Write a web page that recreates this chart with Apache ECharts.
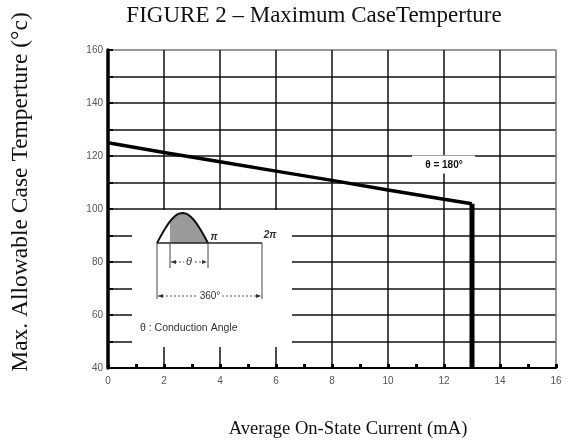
<!DOCTYPE html>
<html><head><meta charset="utf-8">
<script src="https://cdn.jsdelivr.net/npm/echarts@6/dist/echarts.min.js"></script>
<style>html,body{margin:0;padding:0;background:#fff}#c{width:568px;height:446px}</style>
</head><body><div id="c"></div>
<script>
var titleText = 'FIGURE 2 – Maximum CaseTemperture';
var xName = 'Average On-State Current (mA)';
var yName = 'Max. Allowable Case Temperture (°c)';
var currentX = [0, 2, 4, 6, 8, 10, 12, 13];
var caseTemp = [125, 121.3, 117.8, 114.3, 110.8, 107.2, 103.7, 102];
var limitX = [13, 13];
var limitY = [102, 40];
var curveLabel = 'θ = 180°';

var chart = echarts.init(document.getElementById('c'));
var serif = '"Liberation Serif","DejaVu Serif",serif';
var sans = '"Liberation Sans",Arial,sans-serif';

function pairs(xs, ys){ return xs.map(function(x,i){ return [x, ys[i]]; }); }
function splitColors(n){ var a = []; for (var i = 0; i < n - 1; i++) a.push('#111'); a.push('#777'); return a; }

var option = {
  animation: false,
  backgroundColor: '#fff',
  grid: { left: 108, right: 12, top: 50, bottom: 78, outerBoundsMode: 'none', containLabel: false },
  xAxis: {
    type: 'value', min: 0, max: 16, interval: 2,
    axisLine: { lineStyle: { color: '#000', width: 2 } },
    axisTick: { show: true, inside: true, length: 4, lineStyle: { color: '#000', width: 3 } },
    minorTick: { show: true, splitNumber: 2, length: 4, lineStyle: { color: '#000', width: 3 } },
    axisLabel: { fontFamily: sans, fontSize: 10, color: '#555', margin: 8 },
    splitLine: { show: true, lineStyle: { color: splitColors(9), width: 1.5 } }
  },
  yAxis: {
    type: 'value', min: 40, max: 160, interval: 10,
    axisLine: { show: true, lineStyle: { color: '#000', width: 3.5 } },
    axisTick: { show: true, inside: true, length: 5, lineStyle: { color: '#000', width: 2 } },
    axisLabel: { fontFamily: sans, fontSize: 10, color: '#555', margin: 5,
      formatter: function(v){ return v % 20 === 0 ? String(v) : ''; } },
    splitLine: { show: true, lineStyle: { color: splitColors(13), width: 1.5 } }
  },
  series: [
    { type: 'line', data: pairs(currentX, caseTemp), showSymbol: false, z: 3,
      lineStyle: { color: '#000', width: 3.5 } },
    { type: 'line', data: pairs(limitX, limitY), showSymbol: false, z: 3,
      lineStyle: { color: '#000', width: 5 } }
  ]
};
chart.setOption(option);

var g = [];
g.push({ type: 'text', z: 6, x: 314, y: 16, style: { text: titleText, font: '23px ' + serif, fill: '#111',
  align: 'center', verticalAlign: 'middle' } });
g.push({ type: 'text', z: 6, x: 348, y: 429, style: { text: xName, font: '18.6px ' + serif, fill: '#111',
  align: 'center', verticalAlign: 'middle' } });
g.push({ type: 'text', z: 6, x: 21, y: 192, rotation: Math.PI / 2, style: { text: yName, font: '23.5px ' + serif, fill: '#111',
  align: 'center', verticalAlign: 'middle' } });

g.push({ type: 'rect', z: 1, shape: { x: 132, y: 210, width: 160, height: 137 }, style: { fill: '#fff' } });
var lp = chart.convertToPixel({ gridIndex: 0 }, [12, 116.4]);
g.push({ type: 'rect', z: 1, shape: { x: lp[0] - 32, y: lp[1] - 10, width: 63, height: 18 }, style: { fill: '#fff' } });
g.push({ type: 'text', z: 5, x: lp[0], y: lp[1], style: { text: curveLabel, fill: '#111',
  font: 'bold 10px ' + sans, align: 'center', verticalAlign: 'middle' } });

var bx0 = 157, bx1 = 208, by = 243, peak = 30, sx = 170;
var hump = [], shade = [];
for (var i = 0; i <= 30; i++) {
  var t = i / 30, px = bx0 + (bx1 - bx0) * t, py = by - peak * Math.sin(Math.PI * t);
  hump.push([px, py]);
  if (px >= sx) shade.push([px, py]);
}
shade.unshift([sx, by - peak * Math.sin(Math.PI * (sx - bx0) / (bx1 - bx0))]);
shade.unshift([sx, by]);
shade.push([bx1, by]);
g.push({ type: 'polygon', z: 4, shape: { points: shade }, style: { fill: '#9a9a9a', stroke: null } });
g.push({ type: 'polyline', z: 5, shape: { points: hump }, style: { stroke: '#111', lineWidth: 2, fill: null } });
var thin = { stroke: '#444', lineWidth: 1 };
function ln(x1,y1,x2,y2,st){ g.push({ type: 'line', z: 5, shape: { x1:x1, y1:y1, x2:x2, y2:y2 }, style: st || thin }); }
ln(bx0, by, 262, by, { stroke: '#222', lineWidth: 1.5 });
ln(bx0, by, bx0, 299);
ln(262, by, 262, 299);
ln(sx, by, sx, 268);
ln(bx1, by, bx1, 268);
ln(sx + 1, 262, bx1 - 1, 262, { stroke: '#555', lineWidth: 1, lineDash: [2, 2] });
function arrow(x, y, dir){ g.push({ type: 'polygon', z: 5, shape: { points: [[x, y], [x + dir * 5, y - 2], [x + dir * 5, y + 2]] }, style: { fill: '#333' } }); }
arrow(sx + 1, 262, 1); arrow(bx1 - 1, 262, -1);
g.push({ type: 'text', z: 6, x: 189, y: 262, style: { text: 'θ', font: 'italic 11px ' + sans, fill: '#333',
  align: 'center', verticalAlign: 'middle', backgroundColor: '#fff', padding: [0, 2] } });
ln(bx0 + 1, 296, 261, 296, { stroke: '#555', lineWidth: 1, lineDash: [2, 2] });
arrow(bx0 + 1, 296, 1); arrow(261, 296, -1);
g.push({ type: 'text', z: 6, x: 210, y: 296, style: { text: '360°', font: '10px ' + sans, fill: '#333',
  align: 'center', verticalAlign: 'middle', backgroundColor: '#fff', padding: [0, 2] } });
g.push({ type: 'text', z: 6, x: 214, y: 237, style: { text: 'π', font: 'bold italic 10px ' + sans, fill: '#333',
  align: 'center', verticalAlign: 'middle' } });
g.push({ type: 'text', z: 6, x: 270, y: 235, style: { text: '2π', font: 'bold italic 10px ' + sans, fill: '#333',
  align: 'center', verticalAlign: 'middle' } });
g.push({ type: 'text', z: 6, x: 140, y: 328, style: { text: 'θ : Conduction Angle', font: '10.5px ' + sans, fill: '#333',
  align: 'left', verticalAlign: 'middle' } });
chart.setOption({ graphic: g });
</script></body></html>
